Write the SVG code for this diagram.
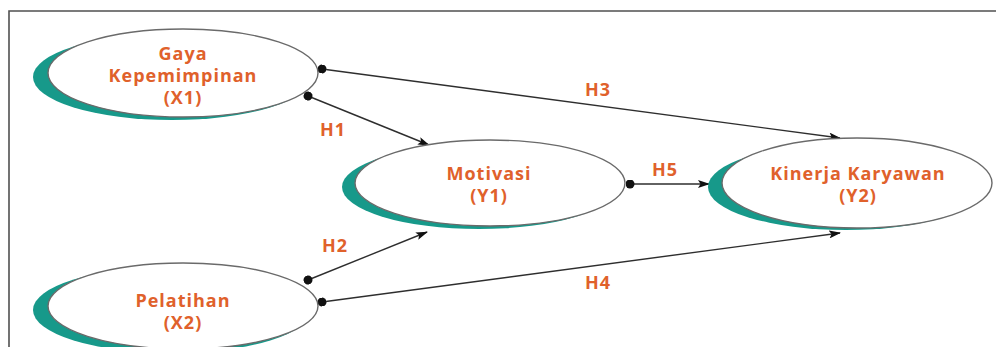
<svg xmlns="http://www.w3.org/2000/svg" width="996" height="347" viewBox="0 0 996 347">
<defs>
<style>
.frame{fill:none;stroke:#505050;stroke-width:1.6}
.shadow{fill:#17998A}
.oval{fill:#fff;stroke:#6a6a6a;stroke-width:1.4}
.lbl{font-family:"Open Sans","Liberation Sans",sans-serif;font-weight:bold;font-size:18px;letter-spacing:1px;fill:#E0612B;text-anchor:middle}
.edge{stroke:#2e2e2e;stroke-width:1.4;fill:none;marker-start:url(#dot);marker-end:url(#arr)}
</style>
<marker id="arr" viewBox="0 0 12 8" refX="11" refY="4" markerWidth="12" markerHeight="8" markerUnits="userSpaceOnUse" orient="auto">
<path d="M0,0 L12,4 L0,8 L2.5,4 Z" fill="#111"/>
</marker>
<marker id="dot" viewBox="0 0 10 10" refX="5" refY="5" markerWidth="9" markerHeight="9" markerUnits="userSpaceOnUse" orient="auto">
<circle cx="5" cy="5" r="5" fill="#111"/>
</marker>
</defs>
<rect width="996" height="347" fill="#fff"/>
<path class="frame" d="M9,347 V11 H996"/>

<g id="connectors">
<path class="edge" d="M322,69 L840,138"/>
<path class="edge" d="M308,96 L429,145"/>
<path class="edge" d="M308,280 L427,232"/>
<path class="edge" d="M322,302 L840,233"/>
<path class="edge" d="M630,184 L709,184"/>
<text class="lbl" x="333" y="136">H1</text>
<text class="lbl" x="598" y="96">H3</text>
<text class="lbl" x="665" y="176">H5</text>
<text class="lbl" x="335" y="252">H2</text>
<text class="lbl" x="598" y="289">H4</text>
</g>

<g id="x1">
<ellipse class="shadow" cx="172" cy="77" rx="139" ry="43"/>
<ellipse class="oval" cx="183" cy="73" rx="135" ry="44"/>
<text class="lbl" x="183" y="60">Gaya</text>
<text class="lbl" x="183" y="82">Kepemimpinan</text>
<text class="lbl" x="183" y="104">(X1)</text>
</g>

<g id="y1">
<ellipse class="shadow" cx="479" cy="187" rx="137" ry="42"/>
<ellipse class="oval" cx="490" cy="183" rx="135" ry="43"/>
<text class="lbl" x="489" y="180">Motivasi</text>
<text class="lbl" x="489" y="202">(Y1)</text>
</g>

<g id="y2">
<ellipse class="shadow" cx="846" cy="187" rx="138" ry="43"/>
<ellipse class="oval" cx="857" cy="183" rx="135" ry="45"/>
<text class="lbl" x="858" y="180">Kinerja Karyawan</text>
<text class="lbl" x="858" y="202">(Y2)</text>
</g>

<g id="x2">
<ellipse class="shadow" cx="172" cy="310" rx="139" ry="43"/>
<ellipse class="oval" cx="183" cy="306" rx="135" ry="43"/>
<text class="lbl" x="183" y="307">Pelatihan</text>
<text class="lbl" x="183" y="329">(X2)</text>
</g>
</svg>
